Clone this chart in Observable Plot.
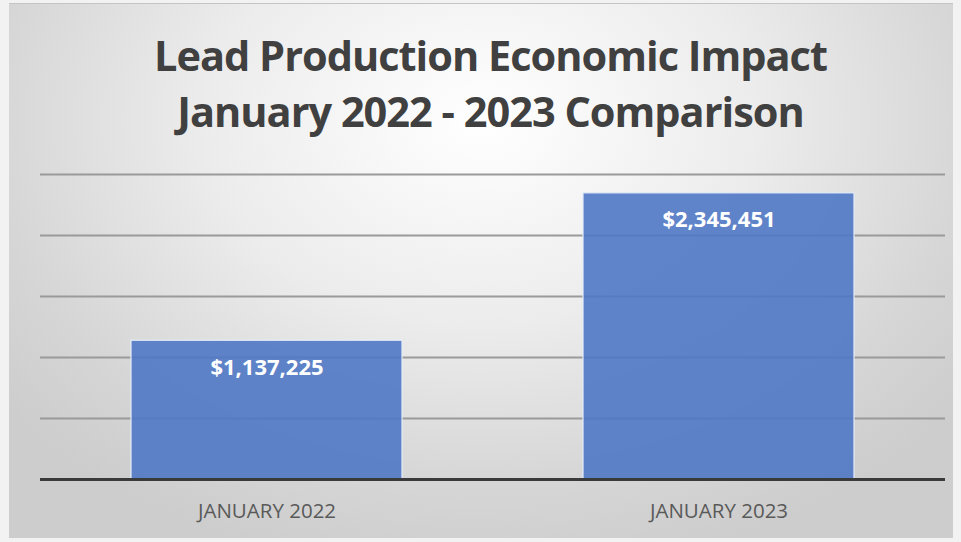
<!DOCTYPE html>
<html>
<head>
<meta charset="utf-8">
<script src="https://cdn.jsdelivr.net/npm/d3@7"></script>
<script src="https://cdn.jsdelivr.net/npm/@observablehq/plot@0.6"></script>
<style>
  html, body { margin: 0; padding: 0; background: #f2f2f2; }
  #wrap { position: relative; width: 961px; height: 542px; overflow: hidden; background: #f2f2f2; }
  #bg { position: absolute; left: 9px; top: 3px; width: 944px; height: 534px;
        background: radial-gradient(ellipse 65% 85% at 50% 22%, #ffffff 0%, #ececec 45%, #d6d6d6 80%, #cdcdcd 100%);
        border-top: 1px solid #c4c4c4; }
  #title { position: absolute; left: 10px; top: 27px; width: 961px; text-align: center;
           font-family: "Open Sans", sans-serif; font-weight: 700; font-size: 41.5px; line-height: 56px;
           color: #404040; letter-spacing: -1px; }
  #chart { position: absolute; left: 0; top: 150px; }
</style>
</head>
<body>
<div id="wrap">
  <div id="bg"></div>
  <div id="title">Lead Production Economic Impact<br>January 2022 - 2023 Comparison</div>
  <div id="chart"></div>
</div>
<script>
const categories = ["JANUARY 2022", "JANUARY 2023"];
const values = [1137225, 2345451];
const valueLabels = ["$1,137,225", "$2,345,451"];
const gridTicks = [500000, 1000000, 1500000, 2000000, 2500000];

const data = categories.map((c, i) => ({category: c, value: values[i], label: valueLabels[i]}));

const plot = Plot.plot({
  width: 961,
  height: 392,
  marginTop: 24,
  marginBottom: 63,
  marginLeft: 40,
  marginRight: 16,
  style: {background: "transparent", overflow: "visible"},
  x: {domain: categories, paddingInner: 0.4, paddingOuter: 0.2, label: null, tickSize: 0, tickPadding: 0},
  y: {domain: [0, 2500000], axis: null},
  marks: [
    Plot.ruleY(gridTicks, {stroke: "#9a9a9a", strokeWidth: 2}),
    Plot.barY(data, {x: "category", y: "value", fill: "#5078c4", fillOpacity: 0.9, stroke: "#e4ecf8", strokeWidth: 1.2}),
    Plot.text(data, {x: "category", y: "value", text: "label", dy: 27, fill: "white", fontWeight: 700,
      fontSize: 22, fontFamily: "Open Sans, sans-serif"}),
    Plot.ruleY([0], {stroke: "#3a3a3a", strokeWidth: 3}),
    Plot.axisX({tickSize: 0, tickPadding: 24, fontSize: 20.5, fontFamily: "Open Sans, sans-serif", color: "#595959",
      label: null, style: {letterSpacing: "1px"}})
  ]
});
document.getElementById("chart").appendChild(plot);
</script>
</body>
</html>
